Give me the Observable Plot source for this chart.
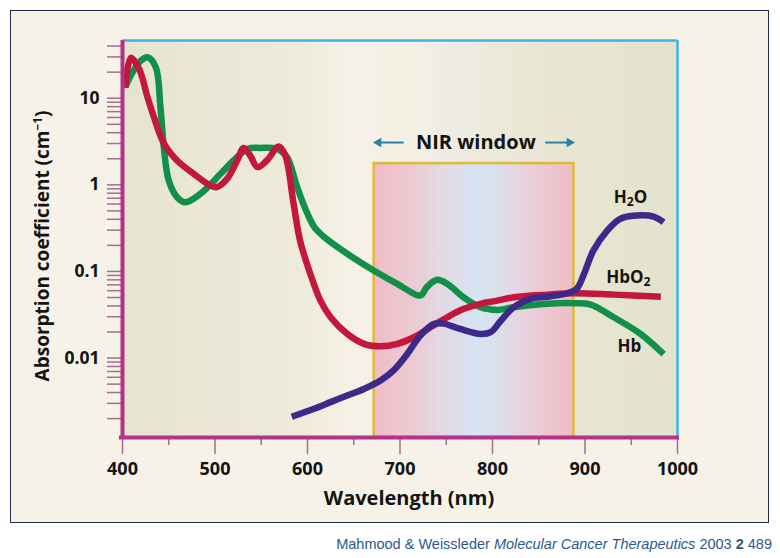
<!DOCTYPE html>
<html><head><meta charset="utf-8">
<script src="https://cdn.jsdelivr.net/npm/d3@7"></script>
<script src="https://cdn.jsdelivr.net/npm/@observablehq/plot@0.6"></script>
<style>
body{margin:0;background:#fff;width:780px;height:558px;position:relative;overflow:hidden;font-family:"Open Sans",sans-serif}
#panel{position:absolute;left:10px;top:10px;width:757px;height:511px;border:1px solid #1f2d4d;background:#f6f2e7}
#chart{position:absolute;left:0;top:0}
#caption{position:absolute;right:8px;top:536px;font-size:14.5px;font-family:"Liberation Sans",Arial,sans-serif;color:#2c5a8c;white-space:nowrap}
</style></head><body>
<div id="panel"></div><div id="chart"></div>
<div id="caption">Mahmood &amp; Weissleder <i>Molecular Cancer Therapeutics</i> 2003 <b>2</b> 489</div>
<script>
// ---- data ----
const hbWl  = [403, 411, 420, 427, 436, 441, 445, 450, 459, 468, 484, 506, 520, 535, 549, 567, 578, 588, 597, 607, 618, 643, 672, 697, 722, 729, 740, 751, 769, 787, 805, 823, 859, 888, 906, 931, 960, 985];
const hbVal = [13.4, 20, 27.2, 29.7, 22.8, 7.9, 2.5, 1.12, 0.72, 0.63, 0.785, 1.34, 1.91, 2.6, 2.67, 2.6, 2.08, 1.0, 0.55, 0.33, 0.25, 0.16, 0.102, 0.072, 0.053, 0.066, 0.08, 0.072, 0.05, 0.0386, 0.036, 0.0386, 0.0423, 0.043, 0.0415, 0.0296, 0.019, 0.0111];

const hbo2Wl  = [403, 409, 418, 427, 434, 445, 459, 477, 495, 502, 513, 524, 531, 538, 546, 556, 569, 576, 585, 592, 603, 614, 625, 643, 661, 679, 697, 715, 733, 751, 769, 787, 805, 823, 859, 888, 931, 982];
const hbo2Val = [13.2, 29.3, 21.8, 10.3, 6.04, 2.97, 1.91, 1.34, 0.98, 0.94, 1.17, 1.91, 2.67, 2.18, 1.6, 1.91, 2.77, 2.18, 0.6, 0.226, 0.094, 0.046, 0.0296, 0.019, 0.0146, 0.0137, 0.0146, 0.0174, 0.0227, 0.0296, 0.037, 0.0423, 0.046, 0.0504, 0.054, 0.056, 0.054, 0.051];

const h2oWl  = [583, 607, 625, 643, 661, 679, 693, 708, 722, 737, 747, 765, 787, 798, 809, 823, 841, 859, 881, 891, 899, 909, 924, 938, 956, 974, 985];
const h2oVal = [0.0021, 0.0026, 0.0031, 0.0037, 0.0044, 0.0055, 0.0072, 0.0112, 0.0182, 0.0248, 0.025, 0.0217, 0.019, 0.0199, 0.027, 0.0386, 0.0483, 0.051, 0.056, 0.063, 0.094, 0.174, 0.296, 0.405, 0.442, 0.43, 0.37];

const seriesNames  = ["Hb", "HbO₂", "H₂O"];
const seriesColors = ["#12904a", "#c3173b", "#3b2a8a"];
const labelWl  = [935, 923, 931];
const labelVal = [0.0135, 0.085, 0.713];

const xMajorTicks = [400, 500, 600, 700, 800, 900, 1000];
const xMinorTicks = [450, 550, 650, 750, 850, 950];
const yMajorTicks = [0.01, 0.1, 1, 10];
const yTickLabels = ["0.01", "0.1", "1", "10"];

const xDomain = [400, 1000];
const yDomain = [0.00121, 46.4];

const nirFrom = 672, nirTo = 888, nirTop = 1.76;
const nirLabel = "NIR window", nirLabelWl = 782, nirLabelVal = 3.08;
const arrowTail = [704, 857], arrowTip = [673.5, 886.5];

const xTitle = "Wavelength (nm)";
const yTitle = "Absorption coefficient (cm⁻¹)";

const bgStopWl    = [400, 452, 484, 522, 549, 592, 625, 646, 722, 744, 765, 809, 873, 1000];
const bgStopColor = ["#e5e4cf", "#e8e6d2", "#ebe8d5", "#ece7d9", "#ede9d8", "#efebdb", "#f3efe3", "#f5f1e6", "#f3f0e4", "#efede3", "#eeebe2", "#ebe9d7", "#e6e6d2", "#e3e3cd"];
const nirStopWl    = [672, 700, 722, 744, 760, 782, 798, 814, 836, 863, 888];
const nirStopColor = ["#efbcc6", "#eec6ce", "#e9cdd6", "#e3d8e4", "#e0dcea", "#d6e4f3", "#d8e2f0", "#e0dbe8", "#e8d2dc", "#edc5cf", "#efbdc7"];

// ---- build tables ----
const seriesWl = [hbWl, hbo2Wl, h2oWl], seriesVal = [hbVal, hbo2Val, h2oVal];
const lines = seriesNames.map((n, k) => seriesWl[k].map((w, i) => ({series: n, wl: w, val: seriesVal[k][i]})));
const labels = seriesNames.map((n, k) => ({name: n, wl: labelWl[k], val: labelVal[k]}));
const yMinorTicks = d3.range(-3, 2).flatMap(e => d3.range(1, 10).map(m => +(m * Math.pow(10, e)).toPrecision(3)))
  .filter(v => v >= yDomain[0] && v <= yDomain[1]);
const yFmt = v => { const i = yMajorTicks.findIndex(t => Math.abs(t - v) < t * 1e-6); return i >= 0 ? yTickLabels[i] : ""; };
const arrows = arrowTail.map((t, i) => ({x1: t, x2: arrowTip[i], y: nirLabelVal}));

const tickColor = "#a56c94", magenta = "#b3338a", cyan = "#3cb4e5", ink = "#141414";

const chart = Plot.plot({
  width: 780, height: 522,
  marginLeft: 122, marginRight: 103, marginTop: 40, marginBottom: 85,
  style: {background: "transparent", fontFamily: "'Open Sans', sans-serif", overflow: "visible"},
  x: {domain: xDomain},
  y: {type: "log", domain: yDomain},
  marks: [
    Plot.rect([{a: xDomain[0], b: xDomain[1], c: yDomain[0], d: yDomain[1]}], {x1: "a", x2: "b", y1: "c", y2: "d", fill: "url(#bgGrad)"}),
    Plot.rect([{a: nirFrom, b: nirTo, c: yDomain[0], d: nirTop}], {x1: "a", x2: "b", y1: "c", y2: "d", fill: "url(#nirGrad)", stroke: "#e0b93a", strokeWidth: 2.5}),
    ...lines.map((data, k) => Plot.line(data, {x: "wl", y: "val", stroke: seriesColors[k], strokeWidth: 6.5, curve: "catmull-rom", strokeLinecap: "butt", strokeLinejoin: "round", clip: true})),
    Plot.ruleY([yDomain[1]], {stroke: cyan, strokeWidth: 2.5}),
    Plot.ruleX([xDomain[1]], {stroke: cyan, strokeWidth: 2.5}),
    Plot.axisY(yMinorTicks, {anchor: "left", tickSize: 15, tickPadding: 8, stroke: tickColor, strokeWidth: 1.5, tickFormat: yFmt, fontSize: 17.5, fontWeight: "bold", fill: ink, label: null}),
    Plot.axisX(xMajorTicks, {anchor: "bottom", tickSize: 17, tickPadding: 8, stroke: tickColor, strokeWidth: 1.5, tickFormat: d => String(d), fontSize: 18, fontWeight: "bold", fill: ink, label: null}),
    Plot.axisX(xMinorTicks, {anchor: "bottom", tickSize: 8, stroke: tickColor, strokeWidth: 1.5, tickFormat: () => "", label: null}),
    Plot.ruleX([xDomain[0]], {stroke: magenta, strokeWidth: 4}),
    Plot.ruleY([yDomain[0]], {stroke: magenta, strokeWidth: 4, insetLeft: -3, insetRight: -2}),
    Plot.link(arrows, {x1: "x1", x2: "x2", y1: "y", y2: "y", stroke: "#2e80a8", strokeWidth: 2}),
    Plot.dot([arrows[0]], {x: "x2", y: "y", symbol: "triangle", r: 3.6, rotate: -90, fill: "#2e80a8", dx: 3}),
    Plot.dot([arrows[1]], {x: "x2", y: "y", symbol: "triangle", r: 3.6, rotate: 90, fill: "#2e80a8", dx: -3}),
    Plot.text([nirLabel], {x: nirLabelWl, y: nirLabelVal, text: d => d, fontSize: 20, fontWeight: "bold", fill: ink}),
    Plot.text(labels, {x: "wl", y: "val", text: "name", textAnchor: "start", fontSize: 17, fontWeight: "bold", fill: ink}),
    Plot.text([yTitle], {frameAnchor: "left", textAnchor: "middle", text: d => d, rotate: -90, dx: -80, dy: 7, fontSize: 19, fontWeight: "bold", fill: ink}),
    Plot.text([xTitle], {frameAnchor: "bottom", textAnchor: "middle", text: d => d, dx: 9, dy: 67, fontSize: 20, fontWeight: "bold", fill: ink})
  ]
});

// gradients for the spectral background
const svg = d3.select(chart);
const xs = chart.scale("x");
const defs = svg.insert("defs", ":first-child");
function grad(id, wl, col) {
  const a = wl[0], b = wl[wl.length - 1];
  const g = defs.append("linearGradient").attr("id", id).attr("gradientUnits", "userSpaceOnUse")
    .attr("x1", xs.apply(a)).attr("x2", xs.apply(b)).attr("y1", 0).attr("y2", 0);
  wl.forEach((w, i) => g.append("stop").attr("offset", (w - a) / (b - a)).attr("stop-color", col[i]));
}
grad("bgGrad", bgStopWl, bgStopColor);
grad("nirGrad", nirStopWl, nirStopColor);

// sub/superscripts
svg.selectAll("text").each(function() {
  const t = this.textContent;
  if (!/₂|⁻¹/.test(t)) return;
  const parts = t.split(/(₂|⁻¹)/).filter(p => p);
  this.textContent = "";
  for (const p of parts) {
    const ts = document.createElementNS("http://www.w3.org/2000/svg", "tspan");
    if (p === "₂") { ts.textContent = "2"; ts.setAttribute("font-size", "0.72em"); ts.setAttribute("baseline-shift", "-22%"); }
    else if (p === "⁻¹") { ts.textContent = "−1"; ts.setAttribute("font-size", "0.62em"); ts.setAttribute("baseline-shift", "55%"); }
    else ts.textContent = p;
    this.appendChild(ts);
  }
});

document.getElementById("chart").appendChild(chart);
</script>
</body></html>
